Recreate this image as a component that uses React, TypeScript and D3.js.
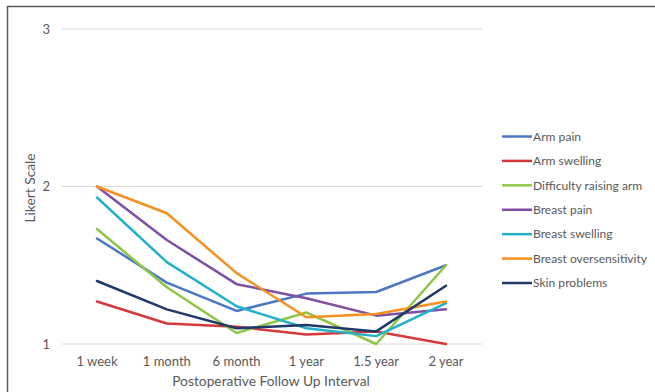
import React from "react";
import * as d3 from "d3";

const categories = ["1 week", "1 month", "6 month", "1 year", "1.5 year", "2 year"];
const yTicks = [1, 2, 3];

const seriesNames = [
  "Arm pain",
  "Arm swelling",
  "Difficulty raising arm",
  "Breast pain",
  "Breast swelling",
  "Breast oversensitivity",
  "Skin problems",
];
const seriesColors = ["#4a78c4", "#d6383b", "#8fc645", "#7f4fa3", "#22b0cb", "#f6911f", "#1f3a68"];

const armPain = [1.67, 1.39, 1.21, 1.32, 1.33, 1.5];
const armSwelling = [1.27, 1.13, 1.11, 1.06, 1.08, 1.0];
const difficultyRaisingArm = [1.73, 1.36, 1.07, 1.2, 1.0, 1.5];
const breastPain = [2.0, 1.66, 1.38, 1.29, 1.18, 1.22];
const breastSwelling = [1.93, 1.52, 1.24, 1.1, 1.05, 1.26];
const breastOversensitivity = [2.0, 1.83, 1.45, 1.17, 1.19, 1.27];
const skinProblems = [1.4, 1.22, 1.1, 1.12, 1.08, 1.37];

const seriesValues = [
  armPain,
  armSwelling,
  difficultyRaisingArm,
  breastPain,
  breastSwelling,
  breastOversensitivity,
  skinProblems,
];

const W = 655;
const H = 392;
const FONT = "Lato, 'Open Sans', sans-serif";
const TEXT = "#595959";

export default function App() {
  const x = d3.scalePoint<string>().domain(categories).range([97, 446]);
  const y = d3.scaleLinear().domain([1, 3]).range([344, 29]);
  const gridX0 = 62;
  const gridX1 = 482;

  const line = d3
    .line<number>()
    .x((_, i) => x(categories[i]) as number)
    .y((d) => y(d));

  const legendY = d3.scalePoint<string>().domain(seriesNames).range([136.5, 283]);

  return (
    <div style={{ position: "fixed", left: 0, top: 0 }}>
      <svg width={W} height={H} style={{ display: "block", background: "#fff" }}>
        {/* frame */}
        <line x1={7.5} x2={W} y1={6.5} y2={6.5} stroke="#5a5a5a" strokeWidth={1.5} />
        <line x1={7.5} x2={7.5} y1={6} y2={H} stroke="#5a5a5a" strokeWidth={1.5} />

        {/* gridlines and y tick labels */}
        {yTicks.map((t) => (
          <g key={t}>
            <line x1={gridX0} x2={gridX1} y1={y(t)} y2={y(t)} stroke="#d9d9d9" strokeWidth={1} />
            <text
              x={50}
              y={y(t)}
              dy="0.35em"
              textAnchor="end"
              fontFamily={FONT}
              fontSize={13}
              fill={TEXT}
            >
              {t}
            </text>
          </g>
        ))}

        {/* x tick labels */}
        {categories.map((c) => (
          <text
            key={c}
            x={x(c)}
            y={361.5}
            dy="0.35em"
            textAnchor="middle"
            fontFamily={FONT}
            fontSize={13}
            fill={TEXT}
          >
            {c}
          </text>
        ))}

        {/* axis titles */}
        <text
          x={271}
          y={381.5}
          dy="0.35em"
          textAnchor="middle"
          fontFamily={FONT}
          fontSize={13.8}
          fill={TEXT}
        >
          Postoperative Follow Up Interval
        </text>
        <text
          transform={`translate(30,188) rotate(-90)`}
          dy="0.35em"
          textAnchor="middle"
          fontFamily={FONT}
          fontSize={13.8}
          fill={TEXT}
        >
          Likert Scale
        </text>

        {/* series lines */}
        {seriesValues.map((vals, i) => (
          <path
            key={seriesNames[i]}
            d={line(vals) ?? ""}
            fill="none"
            stroke={seriesColors[i]}
            strokeWidth={2.5}
            strokeLinejoin="round"
            strokeLinecap="round"
          />
        ))}

        {/* legend */}
        {seriesNames.map((name, i) => {
          const ly = legendY(name) as number;
          return (
            <g key={name}>
              <line x1={502} x2={532} y1={ly} y2={ly} stroke={seriesColors[i]} strokeWidth={2.5} />
              <text
                x={533}
                y={ly}
                dy="0.35em"
                fontFamily={FONT}
                fontSize={12.1}
                fill={TEXT}
              >
                {name}
              </text>
            </g>
          );
        })}
      </svg>
    </div>
  );
}
